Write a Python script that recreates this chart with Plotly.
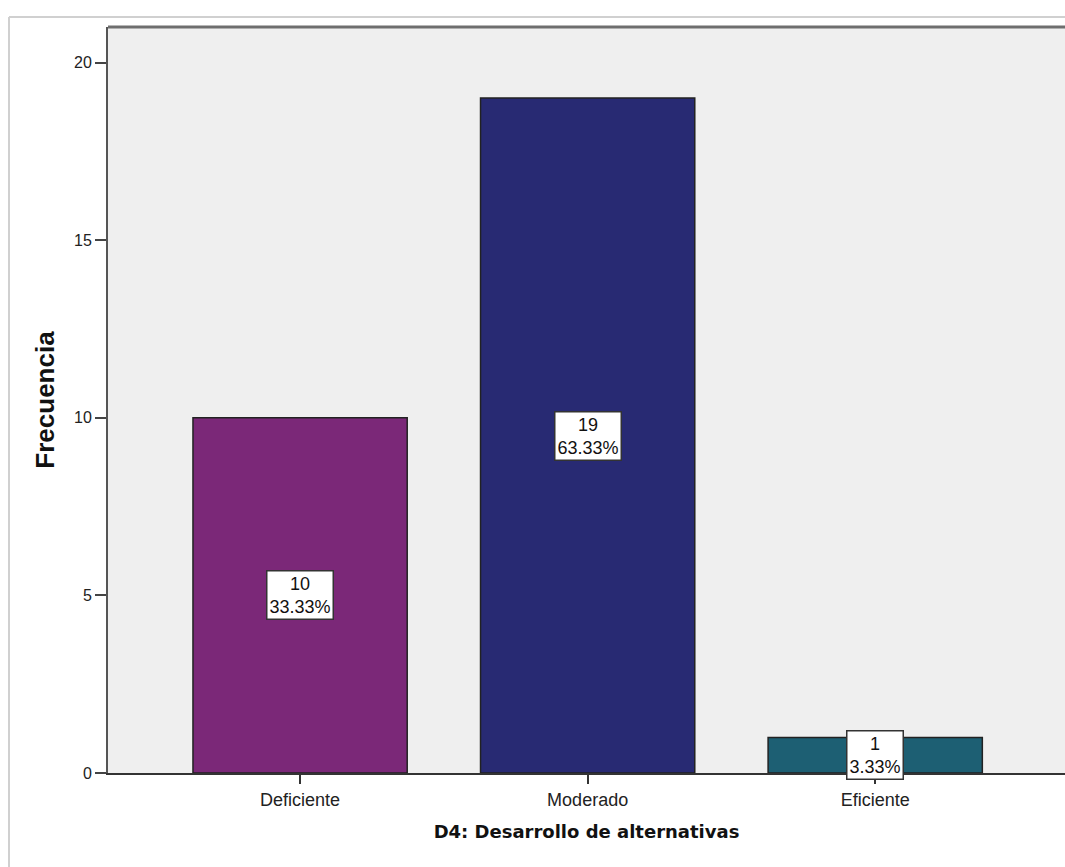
import plotly.graph_objects as go

# Frequencies for D4: Desarrollo de alternativas
categories = ["Deficiente", "Moderado", "Eficiente"]
counts = [10, 19, 1]
percents = ["33.33%", "63.33%", "3.33%"]
bar_colors = ["#7B2878", "#282A73", "#1D5F73"]

W, H = 1065, 867
L, R, T, B = 108, 0, 27, 94
SANS = "Liberation Sans, Arial, sans-serif"

fig = go.Figure()
fig.add_trace(go.Bar(
    x=categories,
    y=counts,
    width=0.745,
    marker=dict(color=bar_colors, line=dict(color="#222222", width=1.5)),
    hoverinfo="skip",
))

# value / percent boxes centred half-way up each bar
for cat, n, p in zip(categories, counts, percents):
    fig.add_annotation(
        x=cat, y=n / 2, xref="x", yref="y",
        text=f"{n}<br>{p}", showarrow=False,
        font=dict(family=SANS, size=18, color="#111"),
        bgcolor="white", bordercolor="#333333", borderwidth=1.5, borderpad=2,
        align="center",
    )

def px_x(px):
    return (px - L) / (W - L - R)

def px_y(py):
    return 1 - (py - T) / (H - T - B)

# outer light frame of the chart area
fig.add_shape(type="line", xref="paper", yref="paper",
              x0=px_x(9), x1=px_x(1080), y0=px_y(17), y1=px_y(17),
              line=dict(color="#d0d0d0", width=2))
fig.add_shape(type="line", xref="paper", yref="paper",
              x0=px_x(9), x1=px_x(9), y0=px_y(17), y1=px_y(880),
              line=dict(color="#d0d0d0", width=2))
# heavy top border of the plot area
fig.add_shape(type="line", xref="paper", yref="paper",
              x0=0, x1=1.01, y0=1, y1=1,
              line=dict(color="#6e6e6e", width=3))

fig.update_layout(
    width=W, height=H,
    margin=dict(l=L, r=R, t=T, b=B, pad=0),
    paper_bgcolor="white",
    plot_bgcolor="#EFEFEF",
    showlegend=False,
    font=dict(family=SANS, size=16, color="#222"),
)
fig.update_xaxes(
    range=[-0.668, 2.66],
    showgrid=False, zeroline=False,
    showline=True, linecolor="#333333", linewidth=2,
    ticks="outside", ticklen=9, tickwidth=2, tickcolor="#333333",
    tickfont=dict(family=SANS, size=18, color="#222"),
    title=dict(text="<b>D4: Desarrollo de alternativas</b>",
               font=dict(family="DejaVu Sans, sans-serif", size=18, color="#111"),
               standoff=17),
)
fig.update_yaxes(
    range=[0, 21],
    tickvals=[0, 5, 10, 15, 20],
    showgrid=False, zeroline=False,
    showline=True, linecolor="#555555", linewidth=2,
    ticks="outside", ticklen=11, tickwidth=2, tickcolor="#444444",
    tickfont=dict(family=SANS, size=16, color="#222"),
    title=dict(text="<b>Frecuencia</b>", font=dict(family=SANS, size=26, color="#111"),
               standoff=12),
)

fig.write_html("out.html")
